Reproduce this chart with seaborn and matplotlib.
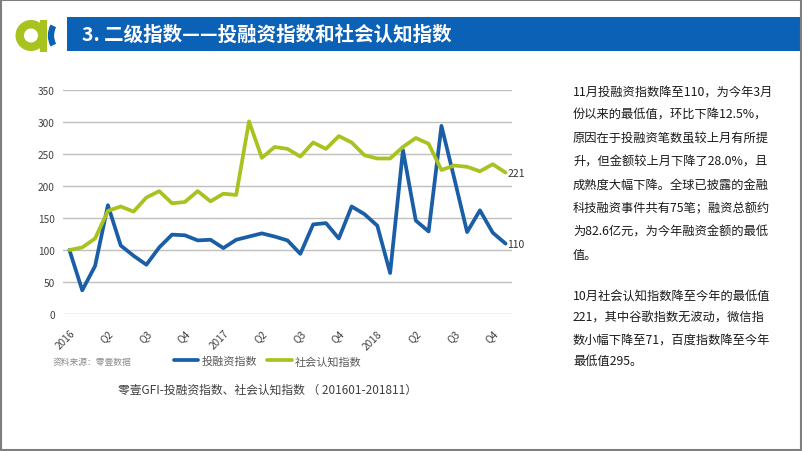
import numpy as np
import pandas as pd
import matplotlib
matplotlib.use("Agg")
import matplotlib.pyplot as plt
import seaborn as sns
from matplotlib.patches import Rectangle, Wedge, Arc
from matplotlib.transforms import Affine2D

# ---------------- data ----------------
months = list(range(35))  # 2016-01 .. 2018-11
invest_index = [100, 37, 75, 170, 107, 91, 77, 104, 124, 123, 115, 116, 103, 116, 121, 126,
                121, 115, 94, 140, 142, 118, 168, 156, 138, 64, 256, 146, 129, 294, 212, 128,
                162, 127, 110]
social_index = [100, 104, 118, 161, 168, 160, 182, 192, 173, 175, 192, 176, 188, 186, 301, 244,
                261, 258, 246, 268, 258, 278, 268, 248, 243, 243, 261, 275, 266, 225, 232, 230,
                223, 234, 221]
series_names = ["投融资指数", "社会认知指数"]
tick_positions = [0, 3, 6, 9, 12, 15, 18, 21, 24, 27, 30, 33]
tick_labels = ["2016", "Q2", "Q3", "Q4", "2017", "Q2", "Q3", "Q4", "2018", "Q2", "Q3", "Q4"]
y_ticks = [0, 50, 100, 150, 200, 250, 300, 350]

title_text = "3. 二级指数——投融资指数和社会认知指数"
caption_text = "零壹GFI-投融资指数、社会认知指数 （ 201601-201811）"
source_text = "资料来源：零壹数据"
para1 = ["11月投融资指数降至110，为今年3月",
         "份以来的最低值，环比下降12.5%，",
         "原因在于投融资笔数虽较上月有所提",
         "升，但金额较上月下降了28.0%，且",
         "成熟度大幅下降。全球已披露的金融",
         "科技融资事件共有75笔；融资总额约",
         "为82.6亿元，为今年融资金额的最低",
         "值。"]
para2 = ["10月社会认知指数降至今年的最低值",
         "221，其中谷歌指数无波动，微信指",
         "数小幅下降至71，百度指数降至今年",
         "最低值295。"]

BLUE = "#1b5ea8"
GREEN = "#a8c21f"
HEADER = "#0b61b5"

df = pd.DataFrame({
    "month": months * 2,
    "value": invest_index + social_index,
    "series": [series_names[0]] * len(months) + [series_names[1]] * len(months),
})

sns.set_theme(style="white")
plt.rcParams["font.family"] = ["Noto Sans CJK SC", "DejaVu Sans"]

W, H = 802, 452
fig = plt.figure(figsize=(W / 100, H / 100), dpi=100)
px = Affine2D().scale(1 / W, -1 / H).translate(0, 1) + fig.transFigure

ax = fig.add_axes([63 / W, 1 - 315 / H, (512 - 63) / W, (315 - 91) / H])
sns.lineplot(data=df, x="month", y="value", hue="series", hue_order=series_names,
             palette=[BLUE, GREEN], linewidth=2.7, legend=False, ax=ax, sort=False)
ax.set_xlim(-0.5, 34.5)
ax.set_ylim(0, 350)
ax.set_yticks(y_ticks)
ax.set_yticklabels([str(v) for v in y_ticks], fontsize=7.3, color="#404040")
ax.set_xticks(tick_positions)
ax.set_xticklabels(tick_labels, rotation=45, ha="right", rotation_mode="anchor",
                   fontsize=7.3, color="#404040")
ax.tick_params(axis="x", length=0, pad=10)
ax.tick_params(axis="y", length=0, pad=6)
ax.set_xlabel("")
ax.set_ylabel("")
ax.grid(axis="y", color="#bfbfbf", linewidth=1)
ax.set_axisbelow(True)
for s in ax.spines.values():
    s.set_visible(False)

# end labels
ax.text(34.15, invest_index[-1], str(invest_index[-1]), fontsize=7.5, color="#333333",
        va="center", ha="left")
ax.text(34.15, social_index[-1], str(social_index[-1]), fontsize=7.5, color="#333333",
        va="center", ha="left")

# legend
lines = ax.get_lines()[:2]
fig.legend(lines, series_names, loc="center left", bbox_to_anchor=(174 / W, 1 - 362 / H),
           ncol=2, frameon=False, fontsize=8, handlelength=2.2, handletextpad=0.3,
           columnspacing=0.9, borderpad=0, borderaxespad=0, labelcolor="#595959")
fig.text(53 / W, 1 - 362 / H, source_text, fontsize=6.3, color="#8c8c8c", va="center")

# caption
fig.text(267 / W, 1 - 390 / H, caption_text, fontsize=8.5, color="#404040",
         va="center", ha="center")

# header
fig.add_artist(Rectangle((67, 18), 734, 34, transform=px, facecolor=HEADER,
                         edgecolor="none"))
fig.text(82 / W, 1 - 35.5 / H, title_text, fontsize=14, color="white",
         fontweight="bold", va="center", ha="left")

# logo
fig.add_artist(Wedge((31, 36.5), 15.5, 0, 360, width=8.5, transform=px,
                     facecolor=GREEN, edgecolor="none"))
fig.add_artist(Rectangle((39.5, 21), 7, 32, transform=px, facecolor=GREEN,
                         edgecolor="none"))
fig.add_artist(Arc((63, 36.5), 24, 32, theta1=135, theta2=225, transform=px,
                   color=HEADER, linewidth=4.5))

# right-hand text
for i, line in enumerate(para1):
    fig.text(573 / W, 1 - (92 + i * 23.3) / H, line, fontsize=8.8, color="#1a1a1a",
             va="center", ha="left")
for i, line in enumerate(para2):
    fig.text(573 / W, 1 - (297 + i * 21.3) / H, line, fontsize=8.8, color="#1a1a1a",
             va="center", ha="left")

# slide border
fig.add_artist(Rectangle((1, 1), W - 2, H - 2, transform=px, facecolor="none",
                         edgecolor="#7f7f7f", linewidth=1.5))

fig.savefig("out.png", dpi=100)
